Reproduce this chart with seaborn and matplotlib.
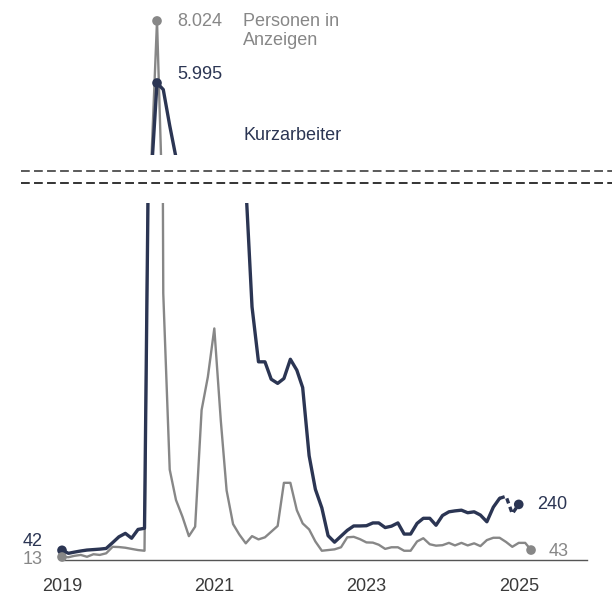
import pandas as pd
import matplotlib.pyplot as plt
import seaborn as sns
from matplotlib.lines import Line2D

# monthly values in thousands, Jan 2019 - Mar 2025
months = pd.date_range("2019-01-01", "2025-03-01", freq="MS")

# Kurzarbeiter (realised), Jan 2019 - Jan 2025
kurzarbeiter = [
    42, 29, 34, 39, 43, 45, 47, 50, 75, 100, 115, 94,
    132, 137, 2600, 5995, 5780, 4600, 3560, 2540, 2200, 2040, 2260, 2390,
    2850, 3000, 2600, 2300, 2200, 1620, 1092, 855, 855, 780, 762, 783,
    866, 819, 744, 450, 305, 225, 105, 77, 103, 128, 147, 147,
    148, 160, 160, 140, 146, 160, 112, 112, 158, 180, 180, 150,
    192, 208, 212, 215, 204, 208, 194, 165, 228, 266, 275, 200,
    240,
]
# Personen in Anzeigen, Jan 2019 - Mar 2025
anzeigen = [
    13, 12, 18, 22, 14, 25, 22, 29, 57, 56, 53, 48,
    43, 40, 2800, 8024, 1150, 390, 259, 187, 103, 144, 647, 790,
    999, 603, 300, 155, 110, 72, 103, 89, 98, 122, 147, 333,
    333, 215, 158, 132, 80, 40, 43, 46, 55, 98, 100, 90,
    76, 75, 66, 48, 55, 55, 40, 40, 80, 94, 68, 62,
    64, 74, 63, 74, 63, 72, 60, 86, 96, 96, 78, 57,
    74, 74, 43,
]
n_solid = 70  # last three Kurzarbeiter months are preliminary (dashed)

DARK = "#2b3553"
GRAY = "#878787"

sns.set_style("white")
plt.rcParams["font.family"] = ["Liberation Sans", "DejaVu Sans"]

ka = pd.DataFrame({"monat": months[:len(kurzarbeiter)], "wert": kurzarbeiter})
an = pd.DataFrame({"monat": months[:len(anzeigen)], "wert": anzeigen})


def fmt(v):
    return f"{v:,}".replace(",", ".")


fig = plt.figure(figsize=(6.12, 5.94), dpi=100)
ax_top = fig.add_axes([0.1013, 0.7391, 0.858, 0.2441])
ax_bot = fig.add_axes([0.1013, 0.0572, 0.858, 0.6010])

peak = ka["wert"].idxmax()
for ax in (ax_top, ax_bot):
    sns.lineplot(data=an, x="monat", y="wert", ax=ax, color=GRAY, linewidth=1.7, zorder=2)
    sns.lineplot(data=ka.iloc[:n_solid], x="monat", y="wert", ax=ax, color=DARK,
                 linewidth=2.4, zorder=3)
    sns.lineplot(data=ka.iloc[n_solid - 1:], x="monat", y="wert", ax=ax, color=DARK,
                 linewidth=2.4, linestyle=(0, (1.6, 1.1)), zorder=3)
    ax.set_xlim(pd.Timestamp("2019-01-01"), pd.Timestamp("2025-11-25"))
    ax.set_xlabel("")
    ax.set_ylabel("")
    ax.set_yticks([])
    sns.despine(ax=ax, left=True, top=True, right=True, bottom=(ax is ax_top))

ax_top.set_ylim(3640, 8382)
ax_top.set_xticks([])
ax_bot.set_ylim(0, 1540)
ax_bot.spines["bottom"].set_color("#555555")
ax_bot.spines["bottom"].set_linewidth(1.0)
ticks = pd.to_datetime(["2019-01-01", "2021-01-01", "2023-01-01", "2025-01-01"])
ax_bot.set_xticks(ticks)
ax_bot.set_xticklabels([str(t.year) for t in ticks])
ax_bot.tick_params(axis="x", length=0, pad=13, labelsize=13, labelcolor="#3a3a3a")

# end / start / peak dots
dots_bot = pd.DataFrame({
    "monat": [ka["monat"].iloc[0], an["monat"].iloc[0], ka["monat"].iloc[-1], an["monat"].iloc[-1]],
    "wert": [ka["wert"].iloc[0], an["wert"].iloc[0], ka["wert"].iloc[-1], an["wert"].iloc[-1]],
})
sns.scatterplot(data=dots_bot, x="monat", y="wert", ax=ax_bot, s=48, linewidth=0,
                color=[DARK, GRAY, DARK, GRAY], clip_on=False, zorder=4)
dots_top = pd.DataFrame({
    "monat": [an["monat"].iloc[an["wert"].idxmax()], ka["monat"].iloc[peak]],
    "wert": [an["wert"].max(), ka["wert"].max()],
})
sns.scatterplot(data=dots_top, x="monat", y="wert", ax=ax_top, s=48, linewidth=0,
                color=[GRAY, DARK], clip_on=False, zorder=4)
ax_bot.set_xlabel("")
ax_bot.set_ylabel("")
ax_top.set_xlabel("")
ax_top.set_ylabel("")

txt = dict(textcoords="offset pixels", va="center", fontsize=13)
ax_bot.annotate(fmt(kurzarbeiter[0]), xy=(months[0], kurzarbeiter[0]), xytext=(-19, 9),
                ha="right", color=DARK, **txt)
ax_bot.annotate(fmt(anzeigen[0]), xy=(months[0], anzeigen[0]), xytext=(-19, -2),
                ha="right", color=GRAY, **txt)
ax_bot.annotate(fmt(kurzarbeiter[-1]), xy=(months[len(kurzarbeiter) - 1], kurzarbeiter[-1]),
                xytext=(18, 0), ha="left", color=DARK, **txt)
ax_bot.annotate(fmt(anzeigen[-1]), xy=(months[len(anzeigen) - 1], anzeigen[-1]),
                xytext=(18, -1), ha="left", color=GRAY, **txt)

an_peak = (months[an["wert"].idxmax()], an["wert"].max())
ka_peak = (months[peak], ka["wert"].max())
ax_top.annotate(fmt(an_peak[1]), xy=an_peak, xytext=(20, -1), ha="left", color=GRAY,
                annotation_clip=False, **txt)
ax_top.annotate(fmt(ka_peak[1]), xy=ka_peak, xytext=(20, 8), ha="left", color=DARK,
                annotation_clip=False, **txt)
ax_top.annotate("Personen in\nAnzeigen", xy=an_peak, xytext=(86, -10), ha="left",
                color=GRAY, linespacing=1.17, annotation_clip=False, **txt)
ax_top.annotate("Kurzarbeiter", xy=ka_peak, xytext=(86, -53), ha="left", color=DARK,
                annotation_clip=False, **txt)

# axis break marks
for y_px, c in ((171, "#5a5a5a"), (183, "#333333")):
    yf = 1 - y_px / 594
    fig.add_artist(Line2D([21 / 612, 1.0], [yf, yf], transform=fig.transFigure, color=c,
                          linewidth=1.4, linestyle=(0, (4.5, 2.2))))

fig.savefig("out.png", dpi=100)
